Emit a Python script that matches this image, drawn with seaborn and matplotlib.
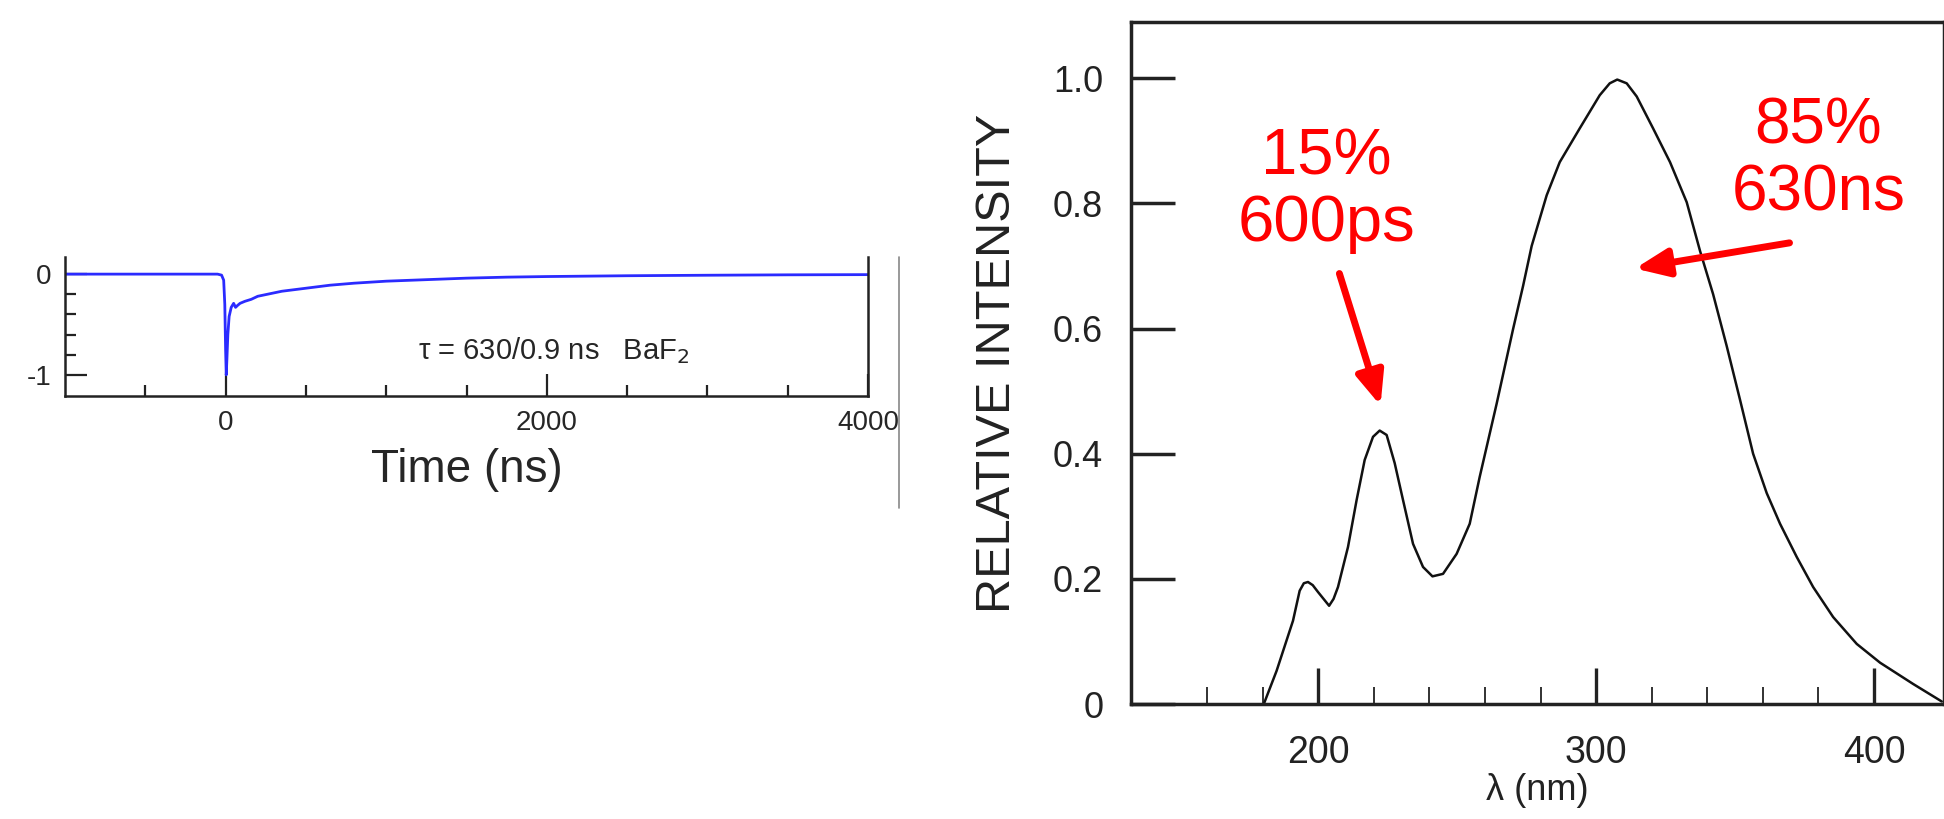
import numpy as np
import pandas as pd
import seaborn as sns
import matplotlib.pyplot as plt
from matplotlib.lines import Line2D

# BaF2 scintillation pulse (left panel)
pulse_t = [-1000, -600, -300, -50, -25, -12, -5, 0, 4, 8, 14, 22, 35, 50, 62, 75, 90, 120,
           160, 200, 260, 350, 500, 650, 800, 1000, 1250, 1500, 1750, 2000, 2500, 3000, 3500, 4000]
pulse_v = [0.0, 0.0, 0.0, 0.0, -0.01, -0.06, -0.3, -0.75, -1.0, -0.85, -0.6, -0.42, -0.33, -0.29,
           -0.33, -0.31, -0.29, -0.27, -0.25, -0.22, -0.2, -0.17, -0.14, -0.11, -0.09, -0.07,
           -0.055, -0.04, -0.03, -0.024, -0.016, -0.011, -0.007, -0.005]

# BaF2 emission spectrum (right panel)
wl = [180.4, 185.0, 190.9, 193.3, 194.8, 196.3, 198.0, 199.9, 203.9, 205.5, 207.1, 210.7,
      213.8, 216.7, 219.7, 222.1, 224.6, 227.5, 230.5, 234.1, 237.7, 241.1, 244.9, 249.8,
      254.5, 258.1, 264.2, 270.1, 273.7, 276.8, 282.2, 286.9, 294.1, 301.3, 304.9, 307.6,
      311.0, 314.6, 320.5, 326.6, 332.6, 337.4, 342.1, 347.0, 351.8, 356.5, 361.4, 366.2,
      372.2, 378.1, 385.3, 393.8, 402.2, 414.1, 424.4]
intensity = [0.0, 0.053, 0.133, 0.181, 0.193, 0.195, 0.19, 0.179, 0.157, 0.168, 0.187, 0.251,
             0.326, 0.39, 0.427, 0.437, 0.43, 0.385, 0.326, 0.256, 0.219, 0.204, 0.208, 0.24,
             0.288, 0.363, 0.48, 0.599, 0.668, 0.732, 0.813, 0.866, 0.92, 0.973, 0.992, 0.998,
             0.992, 0.971, 0.92, 0.866, 0.802, 0.724, 0.655, 0.572, 0.486, 0.40, 0.337, 0.288,
             0.235, 0.187, 0.139, 0.096, 0.066, 0.032, 0.004]

left_yticks = [-1, 0]
left_xticks = [0, 2000, 4000]
right_yticks = [0, 0.2, 0.4, 0.6, 0.8, 1.0]
right_ylabels = ['0', '0.2', '0.4', '0.6', '0.8', '1.0']
right_xticks = [200, 300, 400]

sns.set_style('white')
plt.rcParams['font.family'] = ['Liberation Sans', 'DejaVu Sans']
plt.rcParams['axes.unicode_minus'] = False

fig = plt.figure(figsize=(19.44, 8.19), dpi=100)

# ---- left panel
ax1 = fig.add_axes([65 / 1944, 1 - 396 / 819, 803 / 1944, 139 / 819])
df1 = pd.DataFrame({'t': pulse_t, 'v': pulse_v})
sns.lineplot(data=df1, x='t', y='v', ax=ax1, color='#2b2bff', lw=2)
ax1.set_xlim(-1000, 4000)
ax1.set_ylim(-1.21, 0.17)
ax1.set_xticks(left_xticks)
ax1.set_xticks(np.arange(-500, 4000, 500), minor=True)
ax1.set_yticks(left_yticks)
ax1.set_yticks([-0.8, -0.6, -0.4, -0.2], minor=True)
ax1.tick_params(which='both', bottom=True, left=True, direction='in', color='#222222', width=1.6)
ax1.tick_params(which='major', length=16, labelsize=20, pad=10)
ax1.tick_params(which='minor', length=8)
ax1.tick_params(axis='x', pad=10)
ax1.spines['top'].set_visible(False)
for s in ['left', 'bottom', 'right']:
    ax1.spines[s].set_linewidth(1.8)
    ax1.spines[s].set_color('#222222')
ax1.set_xlabel('Time (ns)', fontsize=33, labelpad=9)
ax1.set_ylabel('')
ax1.text(1200, -0.76, 'τ = 630/0.9 ns   BaF$_2$', fontsize=21, va='center', ha='left')
fig.add_artist(Line2D([899 / 1944, 899 / 1944], [1 - 508 / 819, 1 - 257 / 819],
                      color='#888888', lw=1.2))

# ---- right panel
ax2 = fig.add_axes([1131 / 1944, 1 - 704 / 819, 813 / 1944, 682 / 819])
df2 = pd.DataFrame({'wl': wl, 'I': intensity})
sns.lineplot(data=df2, x='wl', y='I', ax=ax2, color='#111111', lw=1.8)
ax2.set_xlim(132.6, 425.2)
ax2.set_ylim(0, 1.09)
ax2.set_xticks(right_xticks)
ax2.set_xticks([160, 180, 220, 240, 260, 280, 320, 340, 360, 380], minor=True)
ax2.set_yticks(right_yticks)
ax2.set_yticklabels(right_ylabels)
ax2.tick_params(which='both', bottom=True, left=True, direction='in', color='#222222')
ax2.tick_params(axis='y', which='major', length=32, width=2.5,
                labelsize=26, labelcolor='#222222', pad=20)
ax2.tick_params(axis='x', which='major', length=26, width=2.4,
                labelsize=27, labelcolor='#222222', pad=22)
ax2.tick_params(axis='x', which='minor', length=12, width=1.3)
for s in ax2.spines.values():
    s.set_linewidth(2.5)
    s.set_color('#222222')
ax2.set_xlabel('λ (nm)', fontsize=26, color='#222222', labelpad=2)
ax2.set_ylabel('RELATIVE INTENSITY', fontsize=35, color='#222222', labelpad=24)

ax2.text(203, 0.82, '15%\n600ps', color='red', fontsize=47, ha='center', va='center',
         linespacing=1.15)
ax2.text(380, 0.87, '85%\n630ns', color='red', fontsize=46, ha='center', va='center',
         linespacing=1.15)
arrow = dict(arrowstyle='-|>,head_length=1.0,head_width=0.42', lw=5, color='red',
             mutation_scale=20, shrinkA=0, shrinkB=0)
ax2.annotate('', xy=(222.4, 0.477), xytext=(207.6, 0.688), arrowprops=arrow)
ax2.annotate('', xy=(314, 0.696), xytext=(369.6, 0.737), arrowprops=arrow)

fig.savefig('out.png', dpi=100)
